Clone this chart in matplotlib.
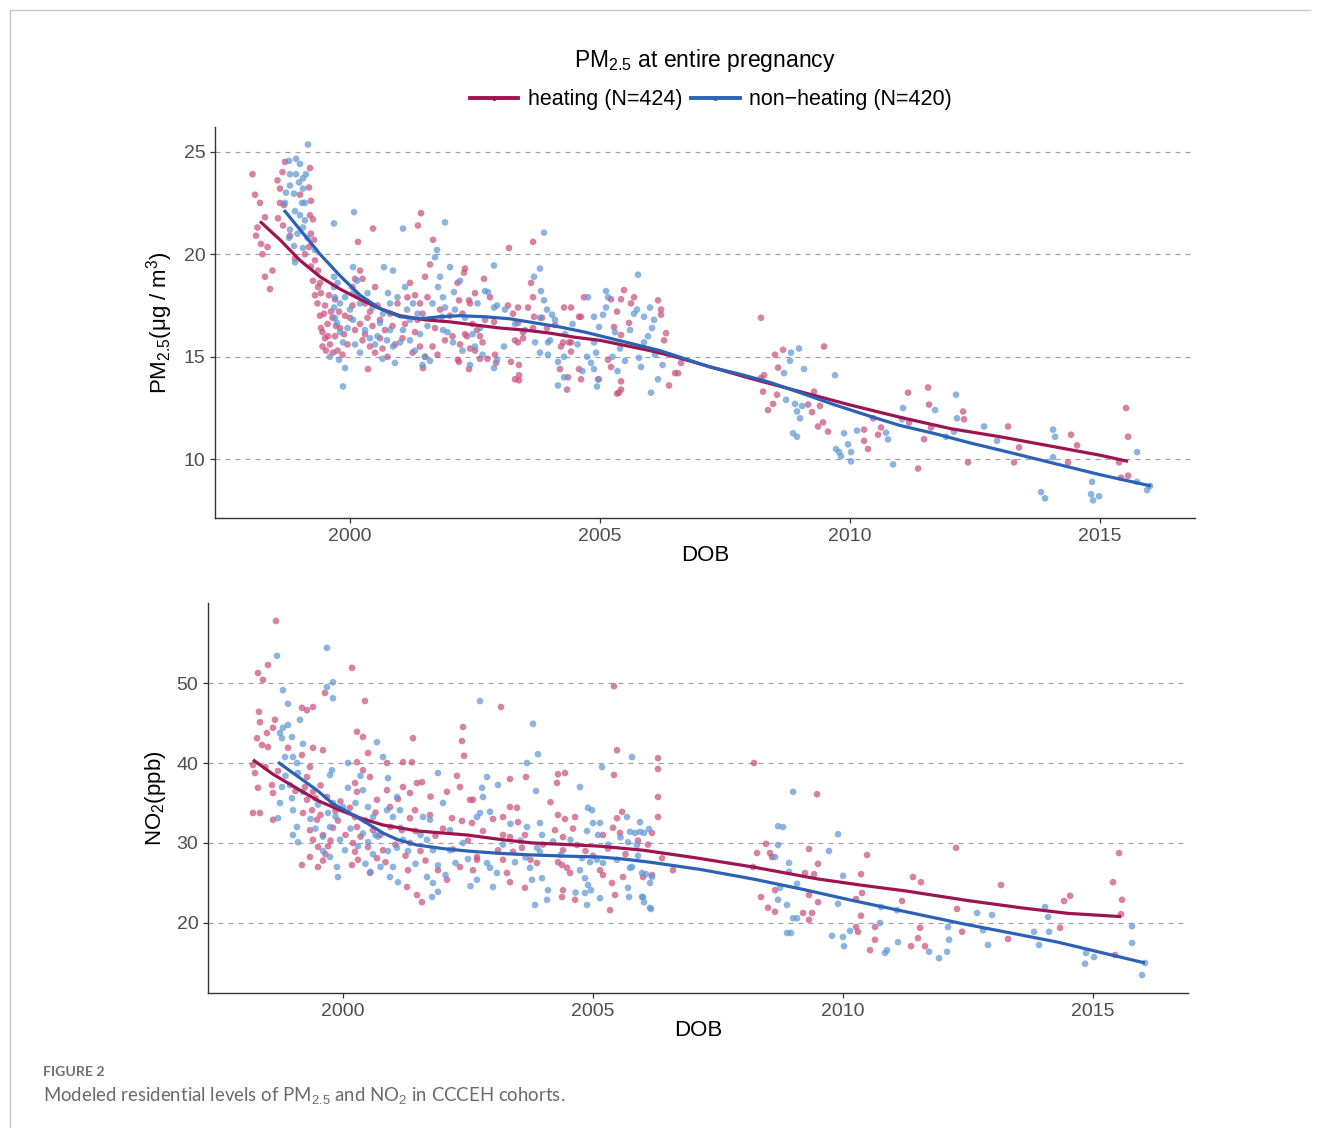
import numpy as np
import matplotlib
matplotlib.use("Agg")
import matplotlib.pyplot as plt
from matplotlib.lines import Line2D

plt.rcParams['font.family'] = ['Liberation Sans', 'DejaVu Sans']
plt.rcParams['mathtext.fontset'] = 'custom'
plt.rcParams['mathtext.rm'] = 'Liberation Sans'
plt.rcParams['mathtext.it'] = 'Liberation Sans:italic'

# ---- data (DOB as decimal year) ----
pm25_heating = [
    (1998.05, 23.9), (1998.1, 22.9), (1998.15, 21.3), (1998.2, 22.5), (1998.22, 20.5), (1998.25, 20.0),
    (1998.3, 21.8), (1998.35, 20.35), (1998.3, 18.9), (1998.4, 18.3), (1998.12, 20.9), (1998.45, 19.2),
    (1998.55, 23.6), (1998.6, 23.2), (1998.65, 24.0), (1998.7, 24.5), (1998.6, 22.5), (1998.68, 22.4),
    (1998.56, 21.75), (1998.66, 21.4), (1998.8, 20.9), (1998.9, 19.8), (1999.2, 24.2), (1999.18, 23.25),
    (1999.22, 22.6), (1999.2, 21.9), (1999.26, 21.7), (1999.22, 21.0), (1999.28, 20.7), (1999.18, 20.35),
    (1999.3, 19.7), (1999.22, 19.4), (1999.36, 19.2), (1999.26, 18.7), (1999.36, 18.4), (1999.42, 18.1),
    (1999.1, 20.0), (1999.0, 22.9),
    (1999.4, 17.0), (1999.45, 16.2), (1999.5, 15.9), (1999.55, 16.6), (1999.6, 15.6), (1999.62, 17.2),
    (1999.7, 16.0), (1999.75, 15.3), (1999.5, 17.5), (1999.65, 16.9), (1999.8, 16.4), (1999.85, 15.1),
    (1999.45, 15.5), (1999.58, 18.0), (1999.7, 17.8), (1999.9, 17.0), (1999.4, 18.6),
    (1999.42, 16.4), (1999.48, 17.1), (1999.52, 15.3), (1999.56, 16.0), (1999.66, 15.2), (1999.72, 16.5),
    (1999.78, 17.2), (1999.88, 16.1), (1999.95, 15.6), (2000.0, 16.9), (2000.05, 17.5), (2000.1, 16.3),
    (1999.3, 18.0), (1999.35, 17.6), (2000.05, 18.4), (2000.25, 18.8),
    (2000.1, 18.8), (2000.2, 19.2), (2000.15, 18.0), (2000.3, 17.6), (2000.4, 17.2), (2000.5, 18.4),
    (2000.6, 16.8), (2000.3, 16.1), (2000.4, 15.5), (2000.5, 15.2), (2000.6, 15.9), (2000.36, 14.4),
    (2000.16, 20.6), (2000.46, 21.25), (2000.7, 16.3), (2000.8, 17.1), (2000.9, 15.6), (2000.2, 16.6),
    (2000.75, 15.0), (2000.25, 15.8), (2000.35, 16.9), (2000.45, 16.5), (2000.55, 17.5), (2000.65, 15.4),
    (2000.85, 16.5), (2000.95, 17.6),
    (2001.42, 22.0), (2001.36, 21.4), (2001.66, 20.7), (2001.2, 18.6), (2001.3, 18.0), (2001.4, 17.6),
    (2001.5, 18.9), (2001.55, 17.9), (2001.3, 16.2), (2001.4, 15.5), (2001.5, 15.0), (2001.46, 14.45),
    (2001.1, 16.6), (2001.7, 16.4), (2001.8, 17.3), (2001.9, 15.8), (2001.6, 19.5), (2001.25, 15.2),
    (2001.05, 15.9), (2001.15, 17.9), (2001.35, 16.8), (2001.45, 17.1), (2001.65, 15.5), (2001.75, 15.1),
    (2002.16, 14.85), (2002.38, 14.4), (2002.2, 15.6), (2002.3, 16.1), (2002.5, 15.3), (2002.6, 16.0),
    (2002.4, 17.6), (2002.5, 18.1), (2002.0, 17.0), (2002.7, 16.8), (2002.8, 17.9), (2002.9, 15.1),
    (2002.15, 18.6), (2002.6, 14.9), (2002.3, 19.3), (2002.28, 19.1), (2002.68, 18.8), (2002.18, 17.75),
    (2002.38, 17.75), (2002.54, 16.3), (2002.34, 16.0), (2002.4, 15.4), (2002.18, 14.75),
    (2002.05, 16.0), (2002.25, 17.1), (2002.45, 16.6), (2002.65, 15.7), (2002.75, 14.9),
    (2003.18, 20.3), (2003.66, 20.6), (2003.62, 18.6), (2003.66, 17.9), (2003.16, 17.5), (2003.26, 17.1),
    (2003.36, 17.4), (2003.56, 17.4), (2002.88, 16.7), (2003.46, 15.9), (2003.36, 15.7), (2003.22, 14.75),
    (2003.38, 14.1), (2003.38, 13.85), (2002.92, 14.7), (2003.36, 16.65), (2003.3, 15.8), (2003.66, 16.4),
    (2003.46, 16.2), (2003.3, 13.9), (2003.38, 14.6),
    (2004.42, 17.4), (2004.68, 17.9), (2004.58, 16.95), (2004.26, 15.7), (2004.42, 15.25), (2004.34, 13.4),
    (2004.36, 14.0), (2004.2, 14.4), (2004.58, 14.4), (2004.62, 13.9), (2004.38, 15.7), (2004.22, 15.5),
    (2003.68, 16.95), (2003.84, 16.9), (2003.94, 16.4), (2004.1, 16.55), (2004.96, 13.9), (2004.28, 17.4),
    (2004.42, 15.7), (2004.62, 16.95),
    (2005.16, 14.85), (2005.22, 14.5), (2005.38, 13.25), (2005.42, 13.8), (2005.48, 18.25), (2005.42, 17.8),
    (2005.68, 17.9), (2005.58, 16.65), (2005.42, 16.06), (2005.28, 16.45), (2005.22, 17.8), (2005.62, 17.6),
    (2005.34, 17.2), (2005.42, 13.4), (2005.34, 13.2),
    (2006.16, 17.75), (2006.22, 17.3), (2006.32, 16.15), (2006.22, 17.05), (2006.56, 14.2), (2006.38, 13.6),
    (2006.62, 14.7), (2006.28, 15.8), (2006.5, 14.2),
    (2008.22, 16.9), (2009.48, 15.5), (2008.5, 15.1), (2008.66, 15.34), (2008.56, 14.47), (2008.28, 14.1),
    (2008.22, 13.96), (2008.26, 13.3), (2008.54, 13.15), (2008.46, 12.7), (2008.36, 12.4), (2009.28, 13.3),
    (2009.16, 12.67), (2009.24, 12.3), (2009.4, 12.6), (2009.46, 11.8), (2009.36, 11.6), (2009.56, 11.35),
    (2010.28, 11.45), (2010.36, 10.5), (2010.28, 10.9), (2010.56, 11.2), (2010.46, 12.0), (2010.62, 11.55),
    (2011.36, 9.55), (2011.16, 13.25), (2011.62, 11.55), (2011.56, 13.5), (2011.58, 12.67), (2011.18, 11.8),
    (2011.48, 10.98), (2012.26, 12.33), (2012.28, 11.95), (2012.36, 9.85), (2013.16, 11.6), (2013.28, 9.85),
    (2013.38, 10.58), (2014.42, 11.2), (2014.54, 10.68), (2014.36, 9.85), (2015.52, 12.5), (2015.56, 11.1),
    (2015.56, 9.2), (2015.42, 9.1), (2015.38, 9.85),
]

pm25_nonheating = [
    (1999.16, 25.35), (1998.78, 24.55), (1998.92, 24.65), (1999.0, 24.4), (1998.8, 23.9), (1998.92, 23.9),
    (1999.06, 23.7), (1998.98, 23.5), (1998.8, 23.35), (1998.88, 22.95), (1999.06, 23.2), (1998.7, 22.5),
    (1999.04, 22.5), (1999.1, 22.5), (1998.9, 22.1), (1999.0, 21.9), (1999.1, 21.65), (1998.8, 21.2),
    (1998.78, 20.8), (1998.88, 20.4), (1999.06, 20.3), (1998.9, 19.6), (1999.06, 21.3), (1998.72, 23.0),
    (1999.12, 23.9), (1998.95, 21.0), (1999.15, 20.8), (1999.3, 20.2),
    (1999.68, 18.9), (1999.68, 18.4), (1999.7, 17.9), (1999.68, 17.4), (1999.7, 16.9), (2000.06, 19.37),
    (2000.14, 18.7), (2000.06, 18.1), (1999.8, 17.6), (1999.74, 16.65), (1999.8, 16.2), (1999.86, 15.7),
    (1999.6, 15.0), (1999.78, 14.85), (1999.9, 14.45), (1999.86, 13.55), (2000.06, 16.8), (2000.0, 17.3),
    (2000.68, 19.37), (2000.86, 19.2), (2000.76, 18.1), (2000.8, 17.6), (2000.66, 17.1), (2000.6, 16.65),
    (2000.74, 15.8), (2000.86, 15.5), (2001.0, 15.7), (2000.9, 14.7), (2001.06, 16.3), (2001.14, 17.3),
    (2001.26, 17.6), (2001.06, 21.25), (2000.08, 22.05), (1999.68, 21.5), (2001.74, 20.2), (2001.7, 19.85),
    (2001.8, 18.9), (2001.76, 18.4), (2001.86, 17.9), (2001.9, 17.4), (2001.84, 16.95), (2001.86, 16.3),
    (2002.06, 15.7), (2001.9, 21.55), (2002.0, 19.37), (2002.2, 18.7), (2002.08, 18.15), (2002.76, 18.15),
    (2002.88, 19.45), (2002.88, 17.4), (2002.94, 14.85), (2002.88, 14.45),
    (2000.3, 16.3), (2000.4, 15.9), (2000.5, 15.6), (2001.2, 15.8), (2001.3, 15.3), (2001.4, 16.1),
    (2001.5, 15.0), (2000.2, 15.2), (2001.6, 14.8), (2002.3, 16.9), (2002.5, 15.5), (2002.6, 16.4),
    (2002.4, 14.6),
    (1999.75, 18.6), (1999.9, 17.9), (1999.95, 16.4), (2000.1, 15.6), (2000.2, 17.6), (2000.35, 18.1),
    (2000.45, 17.4), (2000.55, 16.0), (2000.65, 14.9), (2000.8, 16.3), (2000.95, 17.9), (2001.1, 18.4),
    (2001.2, 16.8), (2001.35, 17.1), (2001.45, 14.6), (2001.55, 16.5), (2001.65, 17.6), (2001.95, 16.2),
    (2002.1, 17.3), (2002.25, 15.3), (2002.45, 16.1), (2002.55, 17.6), (2002.65, 15.1),
    (2003.88, 21.05), (2003.8, 19.3), (2003.68, 18.9), (2002.7, 18.2), (2003.82, 18.2), (2003.88, 17.75),
    (2002.94, 17.5), (2003.94, 17.3), (2004.04, 17.05), (2003.8, 16.9), (2004.1, 16.8), (2003.08, 15.5),
    (2003.7, 15.7), (2003.96, 15.7), (2004.0, 15.8), (2003.8, 15.2), (2003.96, 15.1), (2004.16, 14.75),
    (2003.1, 17.3), (2003.3, 16.6), (2003.5, 16.3),
    (2004.76, 17.9), (2004.88, 16.95), (2004.98, 16.45), (2005.12, 18.2), (2005.16, 17.9), (2005.12, 17.4),
    (2005.06, 17.05), (2004.88, 15.7), (2004.92, 15.2), (2004.82, 14.7), (2004.88, 14.4), (2004.98, 13.9),
    (2004.94, 13.55), (2004.74, 15.0), (2005.76, 19.0), (2005.68, 17.1), (2005.74, 17.3), (2005.88, 16.95),
    (2006.0, 17.4), (2006.08, 16.8), (2006.04, 16.4), (2005.96, 16.0), (2005.88, 15.7), (2005.78, 14.95),
    (2005.82, 14.5), (2006.02, 13.25), (2006.16, 13.9), (2004.28, 14.0), (2004.16, 13.6), (2004.28, 15.0),
    (2005.4, 15.4), (2005.5, 14.8), (2005.3, 16.2), (2004.3, 16.1), (2004.45, 16.6), (2004.55, 15.6),
    (2004.65, 14.3), (2005.25, 15.0), (2005.35, 14.3), (2005.6, 16.3), (2006.1, 15.1), (2006.25, 14.6),
    (2008.98, 15.4), (2008.82, 15.2), (2008.8, 14.8), (2009.08, 14.4), (2008.68, 14.2), (2008.72, 12.9),
    (2008.9, 12.7), (2009.04, 12.6), (2008.94, 12.33), (2009.0, 12.0), (2008.86, 11.27), (2008.94, 11.1),
    (2009.7, 14.1), (2009.72, 10.5), (2009.78, 10.35), (2009.82, 10.15), (2009.96, 10.73), (2010.02, 10.35),
    (2010.02, 9.9), (2009.88, 11.27), (2010.14, 11.4), (2010.72, 11.3), (2010.76, 10.97), (2010.86, 9.75),
    (2011.06, 12.5), (2011.04, 11.95), (2011.92, 11.1), (2012.08, 11.35), (2012.12, 13.15), (2012.14, 12.0),
    (2011.7, 12.4), (2012.68, 11.6), (2012.94, 10.9), (2014.06, 11.45), (2014.1, 11.1), (2014.06, 10.1),
    (2013.82, 8.4), (2013.9, 8.1), (2014.84, 8.9), (2014.82, 8.3), (2014.86, 8.0), (2014.98, 8.2),
    (2015.74, 10.35), (2015.74, 8.9), (2015.94, 8.5), (2016.0, 8.7),
]

no2_heating = [
    (1998.66, 57.75), (1998.3, 51.25), (1998.4, 50.4), (1998.5, 52.25), (1998.32, 46.4), (1998.34, 45.1),
    (1998.28, 43.1), (1998.38, 42.25), (1998.48, 43.75), (1998.64, 45.4), (1998.6, 44.4), (1998.5, 42.0),
    (1998.2, 39.75), (1998.24, 38.75), (1998.3, 36.9), (1998.58, 37.25), (1998.6, 36.25), (1998.2, 33.75),
    (1998.34, 33.75), (1998.6, 32.9), (1999.18, 46.9), (1999.28, 46.6), (1999.4, 47.0), (1999.64, 48.75),
    (2000.18, 51.9), (2000.44, 47.75), (2000.28, 43.9), (2000.4, 43.25), (1999.6, 41.6), (1999.18, 41.0),
    (1999.34, 39.5), (1999.28, 38.25), (1999.24, 37.0), (1999.4, 36.4), (1999.28, 35.4), (1999.2, 33.75),
    (1999.38, 34.1), (1999.48, 32.9), (1999.34, 31.6), (1999.4, 30.4), (1999.5, 29.5), (1999.34, 28.25),
    (1999.18, 27.25), (1999.5, 27.0), (1999.68, 35.75), (1999.4, 41.9),
    (1999.6, 31.0), (1999.55, 33.5), (1999.7, 29.6), (1999.65, 28.6), (1999.8, 31.9), (1999.75, 30.3),
    (1999.9, 32.8), (1999.6, 27.8), (1998.9, 41.9), (1999.05, 36.5), (1998.45, 39.5), (1998.7, 39.0),
    (1999.45, 35.6), (1999.55, 37.2), (1999.85, 34.0), (1999.95, 35.2),
    (2000.28, 40.1), (2000.4, 39.1), (2000.24, 37.5), (2000.28, 36.4), (2000.14, 34.4), (2000.24, 33.25),
    (2000.28, 32.0), (2000.2, 30.0), (2000.24, 28.9), (2000.3, 27.9), (2000.18, 27.25), (2000.5, 41.25),
    (2000.54, 38.25), (2000.68, 35.4), (2000.88, 36.6), (2000.94, 34.5), (2000.6, 31.6), (2000.8, 29.1),
    (2000.68, 28.1), (2000.54, 26.25), (2000.88, 40.0), (2000.05, 31.0), (2000.35, 30.8), (2000.45, 32.8),
    (2000.5, 29.5), (2000.65, 33.8), (2000.75, 31.0), (2000.85, 27.6), (2000.95, 32.0),
    (2001.2, 37.0), (2001.34, 36.25), (2001.48, 37.5), (2001.58, 37.6), (2001.38, 40.1), (2001.2, 40.1),
    (2001.4, 43.1), (2001.44, 34.1), (2001.34, 33.1), (2001.18, 31.6), (2001.34, 30.0), (2001.3, 26.6),
    (2001.28, 24.5), (2001.48, 23.5), (2001.58, 22.6), (2001.74, 33.5), (2002.08, 36.4), (2002.18, 33.1),
    (2002.38, 32.75), (2002.4, 44.5), (2002.38, 42.75), (2002.42, 40.9), (2002.28, 38.4), (2002.34, 37.0),
    (2002.54, 35.4), (2002.34, 27.0), (2002.08, 25.4), (2001.9, 26.6), (2002.68, 28.25),
    (2001.05, 29.8), (2001.1, 35.5), (2001.25, 28.4), (2001.45, 31.5), (2001.55, 29.0), (2001.65, 27.8),
    (2001.75, 35.8), (2001.85, 30.9), (2002.0, 31.8), (2002.2, 29.2), (2002.5, 30.3), (2002.8, 31.5),
    (2005.42, 49.6), (2003.16, 47.0), (2005.48, 41.6), (2005.42, 38.5), (2006.3, 40.6), (2006.3, 39.25),
    (2006.3, 35.75), (2006.3, 33.25), (2003.34, 38.0), (2003.66, 38.25), (2004.3, 38.6), (2004.44, 38.75),
    (2004.28, 37.5), (2003.34, 34.5), (2003.48, 34.4), (2003.2, 33.25), (2004.3, 33.5), (2004.44, 33.0),
    (2004.64, 33.25), (2004.24, 31.6), (2003.2, 31.0), (2003.64, 31.0), (2003.34, 30.75), (2004.4, 30.75),
    (2005.2, 31.0), (2005.48, 33.1), (2005.58, 33.9), (2005.4, 31.9), (2005.54, 31.25), (2006.18, 31.25),
    (2002.6, 35.4), (2002.58, 32.5), (2002.68, 27.9), (2002.6, 26.6), (2003.1, 29.1), (2003.4, 28.9),
    (2003.58, 29.4), (2003.2, 27.9), (2003.28, 26.25), (2003.34, 25.1), (2003.64, 24.4), (2003.88, 27.5),
    (2004.3, 27.6), (2004.38, 27.25), (2004.48, 26.9), (2004.54, 26.25), (2004.4, 24.1), (2004.38, 23.25),
    (2004.64, 22.9), (2004.68, 29.75), (2004.4, 29.1), (2005.14, 26.6), (2005.2, 26.0), (2005.34, 21.6),
    (2005.44, 23.5), (2005.38, 25.0), (2005.6, 25.75), (2006.0, 25.75), (2006.18, 26.0), (2006.38, 28.1),
    (2006.6, 26.6), (2003.0, 33.0), (2003.5, 32.6), (2003.75, 27.9), (2004.0, 29.8), (2004.15, 35.1),
    (2004.6, 31.8), (2004.85, 29.0), (2005.0, 28.4), (2005.3, 29.3), (2005.65, 28.6), (2005.9, 30.3),
    (2006.1, 29.8),
    (2008.22, 40.0), (2009.48, 36.1), (2008.46, 29.9), (2008.28, 28.75), (2008.54, 28.75), (2008.58, 28.25),
    (2008.2, 27.0), (2009.32, 29.25), (2009.5, 27.4), (2009.24, 26.25), (2009.42, 26.1), (2008.36, 23.25),
    (2008.64, 24.1), (2008.5, 21.9), (2008.64, 21.4), (2009.2, 21.25), (2009.38, 21.25), (2009.32, 20.4),
    (2009.32, 23.5), (2009.5, 22.6), (2010.48, 28.5), (2010.36, 26.1), (2010.38, 23.75), (2010.26, 23.0),
    (2010.36, 20.9), (2010.26, 19.5), (2010.3, 18.9), (2010.64, 19.5), (2010.64, 17.9), (2010.54, 16.6),
    (2011.18, 22.75), (2011.4, 25.75), (2011.56, 25.1), (2011.36, 17.1), (2011.5, 18.1), (2011.64, 17.1),
    (2011.54, 19.4), (2012.26, 29.4), (2012.28, 21.75), (2012.38, 18.9), (2013.16, 24.75), (2013.3, 18.0),
    (2014.42, 22.75), (2014.54, 23.4), (2014.34, 19.4), (2015.4, 25.1), (2015.52, 28.75), (2015.58, 22.9),
    (2015.44, 16.0), (2015.56, 21.1),
]

no2_nonheating = [
    (1998.68, 53.4), (1999.68, 54.4), (1998.8, 49.1), (1998.9, 47.4), (1999.8, 50.1), (1999.68, 49.5),
    (1999.8, 48.1), (1999.14, 45.4), (1998.9, 44.75), (1998.8, 44.4), (1998.74, 43.75), (1998.98, 43.25),
    (1998.78, 43.1), (2000.68, 42.6), (2002.74, 47.75), (1998.84, 40.75), (1999.0, 40.75), (1999.08, 40.0),
    (1999.1, 38.75), (1998.78, 37.0), (1998.94, 37.25), (1998.98, 35.6), (1998.74, 35.0), (1999.0, 34.1),
    (1998.7, 33.1), (1999.08, 32.0), (1999.1, 30.1), (1999.74, 32.0), (1999.7, 33.75), (1999.8, 35.0),
    (1999.74, 38.5), (1999.78, 39.1), (1999.94, 30.4), (2000.04, 29.1), (1999.88, 27.0), (1999.9, 25.75),
    (1999.74, 28.25), (2000.1, 40.0), (2000.4, 36.6), (2000.5, 34.5), (2000.6, 33.25), (2000.8, 40.75),
    (2000.9, 38.1), (2001.08, 35.75), (2000.88, 34.1), (2001.0, 33.25), (2001.14, 34.1), (2001.2, 30.4),
    (2001.08, 29.4), (2001.0, 27.0), (2000.94, 25.75), (2001.1, 25.1), (2001.6, 33.25), (2001.74, 32.9),
    (2001.68, 30.4), (2001.8, 29.1), (2001.68, 25.75), (2001.8, 25.0), (2001.9, 23.9), (2001.78, 23.25),
    (2001.9, 38.75), (2002.0, 35.0), (2002.14, 31.6), (2002.14, 29.1), (2002.4, 30.0), (2002.68, 33.25),
    (2002.8, 35.75), (2002.88, 38.25), (2002.68, 25.4), (2002.88, 27.5),
    (2000.3, 29.6), (2000.45, 27.4), (2000.6, 28.6), (2000.7, 30.8), (2000.4, 31.2), (2000.55, 26.4),
    (1999.6, 30.8), (1999.5, 34.8), (2000.1, 36.9), (2000.9, 29.0),
    (1999.2, 36.4), (1999.35, 33.0), (1999.45, 31.8), (1999.6, 29.0), (1999.85, 33.3), (2000.0, 34.5),
    (2000.15, 31.8), (2000.25, 35.0), (2000.35, 38.4), (2000.5, 30.1), (2000.65, 31.0), (2000.75, 27.0),
    (2001.15, 31.9), (2001.3, 29.0), (2001.45, 27.4), (2001.55, 31.0), (2001.9, 27.2), (2002.05, 26.0),
    (2002.25, 27.5), (2002.5, 28.0), (2002.55, 24.6), (1998.85, 38.4), (1999.2, 42.4), (1999.0, 31.0),
    (2003.8, 44.9), (2003.9, 41.1), (2003.68, 40.0), (2005.78, 40.75), (2005.18, 39.5), (2004.74, 37.0),
    (2002.78, 36.9), (2003.1, 37.25), (2003.86, 36.5), (2002.74, 33.75), (2002.94, 33.9), (2004.9, 34.4),
    (2004.98, 34.1), (2005.68, 33.25), (2005.94, 32.6), (2005.0, 32.5), (2005.14, 32.5), (2005.74, 31.4),
    (2005.84, 31.25), (2005.94, 31.4), (2003.94, 32.5), (2003.98, 31.0), (2003.68, 32.0), (2004.88, 31.5),
    (2005.1, 31.0), (2005.7, 30.1), (2003.88, 29.4), (2003.94, 28.9), (2004.78, 28.1), (2004.94, 27.6),
    (2005.08, 27.9), (2005.2, 27.5), (2005.48, 27.9), (2005.78, 27.0), (2005.98, 26.25), (2006.18, 25.75),
    (2002.94, 26.9), (2003.08, 26.25), (2003.0, 24.5), (2003.44, 27.6), (2003.74, 26.9), (2003.78, 25.4),
    (2003.98, 25.6), (2003.84, 22.25), (2004.08, 22.9), (2004.1, 24.1), (2004.74, 26.6), (2004.84, 25.6),
    (2004.9, 24.75), (2004.96, 24.1), (2004.84, 23.75), (2004.88, 22.25), (2005.14, 23.1), (2005.7, 24.4),
    (2005.98, 23.25), (2006.14, 21.9), (2005.74, 26.9), (2003.2, 29.8), (2003.35, 32.4), (2003.55, 30.3),
    (2003.65, 28.2), (2004.2, 30.2), (2004.35, 28.5), (2004.55, 30.4), (2004.65, 23.8), (2005.3, 29.8),
    (2005.55, 30.7), (2005.9, 28.4),
    (2006.02, 31.25), (2006.12, 31.75), (2005.88, 29.75), (2006.06, 26.1), (2006.14, 25.0), (2006.0, 23.25),
    (2006.02, 22.6), (2006.16, 21.75), (2005.72, 23.25),
    (2008.7, 32.1), (2008.8, 32.0), (2009.0, 36.4), (2008.7, 29.75), (2008.92, 27.5), (2008.64, 28.25),
    (2009.08, 24.9), (2008.92, 26.4), (2008.74, 24.4), (2008.7, 22.9), (2008.88, 22.25), (2009.0, 20.6),
    (2009.08, 20.6), (2008.88, 18.75), (2008.96, 18.75), (2009.72, 29.0), (2009.9, 31.1), (2010.0, 25.9),
    (2009.9, 22.4), (2009.78, 18.4), (2010.0, 18.25), (2010.02, 17.1), (2010.14, 19.0), (2010.76, 22.0),
    (2010.74, 20.0), (2011.08, 21.6), (2011.1, 17.6), (2010.88, 16.6), (2010.84, 16.25), (2011.72, 16.4),
    (2011.92, 15.6), (2012.1, 19.5), (2012.12, 17.9), (2012.08, 16.4), (2012.68, 21.25), (2012.8, 19.1),
    (2012.9, 17.25), (2012.98, 21.0), (2013.82, 18.9), (2013.92, 17.25), (2014.04, 22.0), (2014.1, 20.75),
    (2014.12, 18.9), (2014.86, 16.25), (2015.02, 15.75), (2014.84, 14.9), (2015.78, 19.6), (2015.78, 17.5),
    (2016.04, 15.0), (2015.98, 13.5),
]

# smoothed trend lines
pm25_heating_fit = [
    (1998.2, 21.6), (1998.6, 20.7), (1999.0, 19.7), (1999.4, 18.9), (1999.8, 18.3), (2000.2, 17.8),
    (2000.6, 17.35), (2001.0, 17.0), (2001.5, 16.8), (2002.0, 16.7), (2002.5, 16.55), (2003.0, 16.4),
    (2003.5, 16.3), (2004.0, 16.15), (2004.5, 15.95), (2005.0, 15.8), (2005.5, 15.55), (2006.0, 15.3),
    (2006.5, 15.0), (2007.0, 14.65), (2007.5, 14.3), (2008.0, 13.95), (2009.0, 13.3), (2010.0, 12.65),
    (2011.0, 12.05), (2012.0, 11.5), (2013.0, 11.1), (2014.0, 10.65), (2015.0, 10.2), (2015.56, 9.9),
]
pm25_nonheating_fit = [
    (1998.68, 22.15), (1999.0, 21.2), (1999.4, 20.0), (1999.8, 18.95), (2000.2, 18.0), (2000.6, 17.35),
    (2001.0, 16.95), (2001.4, 16.85), (2001.8, 16.95), (2002.2, 17.0), (2002.7, 16.95), (2003.2, 16.85),
    (2003.7, 16.65), (2004.2, 16.45), (2004.7, 16.2), (2005.2, 15.9), (2005.7, 15.6), (2006.2, 15.3),
    (2006.7, 14.9), (2007.2, 14.5), (2007.8, 14.15), (2008.4, 13.75), (2009.0, 13.25), (2009.7, 12.65),
    (2010.4, 12.1), (2011.0, 11.65), (2011.7, 11.25), (2012.4, 10.8), (2013.0, 10.45), (2014.0, 9.85),
    (2015.0, 9.25), (2016.02, 8.7),
]
no2_heating_fit = [
    (1998.2, 40.4), (1998.6, 38.6), (1999.14, 36.6), (1999.5, 35.3), (1999.94, 34.1), (2000.4, 33.0),
    (2000.8, 32.25), (2001.5, 31.5), (2002.48, 31.0), (2003.2, 30.4), (2003.8, 30.0), (2004.5, 29.8),
    (2005.14, 29.6), (2006.0, 29.1), (2007.0, 28.2), (2008.2, 27.0), (2009.5, 25.5), (2010.4, 24.7),
    (2011.26, 24.0), (2012.5, 22.8), (2013.56, 21.9), (2014.5, 21.2), (2015.56, 20.8),
]
no2_nonheating_fit = [
    (1998.7, 40.1), (1999.1, 38.3), (1999.48, 36.6), (1999.8, 34.9), (2000.14, 33.75), (2000.5, 32.4),
    (2000.8, 31.25), (2001.1, 30.4), (2001.48, 29.75), (2002.0, 29.3), (2002.48, 29.0), (2003.14, 28.7),
    (2003.8, 28.5), (2004.5, 28.35), (2005.14, 28.25), (2005.6, 28.0), (2006.14, 27.6), (2007.14, 26.7),
    (2008.2, 25.5), (2009.2, 24.2), (2010.2, 22.8), (2011.26, 21.4), (2012.4, 19.9), (2013.56, 18.5),
    (2014.3, 17.6), (2015.1, 16.4), (2016.04, 15.0),
]

year_ticks = [2000, 2005, 2010, 2015]
pm25_ticks = [10, 15, 20, 25]
no2_ticks = [20, 30, 40, 50]

RED_PT = '#c9517c'
BLUE_PT = '#5f97d6'
RED_LN = '#9e1450'
BLUE_LN = '#2b62b5'


def draw_panel(ax, heat, nonheat, heat_fit, nonheat_fit, yticks, ylim, ylabel):
    h = np.array(heat)
    n = np.array(nonheat)
    ax.scatter(h[:, 0], h[:, 1], s=23, color=RED_PT, alpha=0.72, edgecolors='none', zorder=2)
    ax.scatter(n[:, 0], n[:, 1], s=23, color=BLUE_PT, alpha=0.72, edgecolors='none', zorder=2)
    hf = np.array(heat_fit)
    nf = np.array(nonheat_fit)
    ax.plot(hf[:, 0], hf[:, 1], color=RED_LN, lw=2.3, solid_capstyle='butt', zorder=3)
    ax.plot(nf[:, 0], nf[:, 1], color=BLUE_LN, lw=2.3, solid_capstyle='butt', zorder=4)

    ax.set_xlim(1997.3, 2016.9)
    ax.set_ylim(*ylim)
    ax.set_xticks(year_ticks)
    ax.set_yticks(yticks)
    for t in yticks:
        ax.axhline(t, color='#a0a0a0', lw=0.9, ls=(0, (4, 4)), zorder=1)
    for side in ['top', 'right']:
        ax.spines[side].set_visible(False)
    for side in ['left', 'bottom']:
        ax.spines[side].set_color('#333333')
        ax.spines[side].set_linewidth(1.0)
    ax.tick_params(axis='both', colors='#333333', labelcolor='#4d4d4d', labelsize=14, length=3.5, width=0.9)
    ax.set_xlabel('DOB', fontsize=16, color='black', labelpad=0)
    ax.set_ylabel(ylabel, fontsize=16, color='black', labelpad=6)


fig = plt.figure(figsize=(13.23, 11.28), dpi=100)

ax1 = fig.add_axes([0.1625, 0.5408, 0.7408, 0.3466])
draw_panel(ax1, pm25_heating, pm25_nonheating, pm25_heating_fit, pm25_nonheating_fit,
           pm25_ticks, (7.14, 26.2), r'PM$_{2.5}$(μg / m$^{3}$)')

ax2 = fig.add_axes([0.1572, 0.1197, 0.7408, 0.3457])
draw_panel(ax2, no2_heating, no2_nonheating, no2_heating_fit, no2_nonheating_fit,
           no2_ticks, (11.25, 60), r'NO$_{2}$(ppb)')

fig.text(705 / 1323, 1 - 60 / 1128, r'PM$_{2.5}$ at entire pregnancy', ha='center', va='center',
         fontsize=16.5, color='black')
handles = [
    Line2D([0], [0], color=RED_LN, lw=2.8, marker='o', markersize=2.5),
    Line2D([0], [0], color=BLUE_LN, lw=2.8, marker='o', markersize=2.5),
]
fig.legend(handles, ['heating (N=424)', 'non\u2212heating (N=420)'], loc='center',
           bbox_to_anchor=(711 / 1323, 1 - 100 / 1128), ncol=2, frameon=False, fontsize=15.5,
           handlelength=2.25, columnspacing=0.4, handletextpad=0.45)

# caption
fig.text(43 / 1323, 1 - 1072 / 1128, 'FIGURE 2', ha='left', va='center', fontsize=10.2,
         fontweight='bold', color='#707070', family=['Lato', 'DejaVu Sans'])
fig.text(43 / 1323, 1 - 1095 / 1128, r'Modeled residential levels of PM$_{2.5}$ and NO$_{2}$ in CCCEH cohorts.',
         ha='left', va='center', fontsize=13.4, color='#6a6a6a', family=['Lato', 'DejaVu Sans'])

# page frame
fig.add_artist(Line2D([10 / 1323, 1310 / 1323], [1 - 10 / 1128, 1 - 10 / 1128], color='#c8c8c8', lw=1.0))
fig.add_artist(Line2D([10 / 1323, 10 / 1323], [1 - 10 / 1128, 0], color='#c8c8c8', lw=1.0))

fig.savefig('out.png', dpi=100)
